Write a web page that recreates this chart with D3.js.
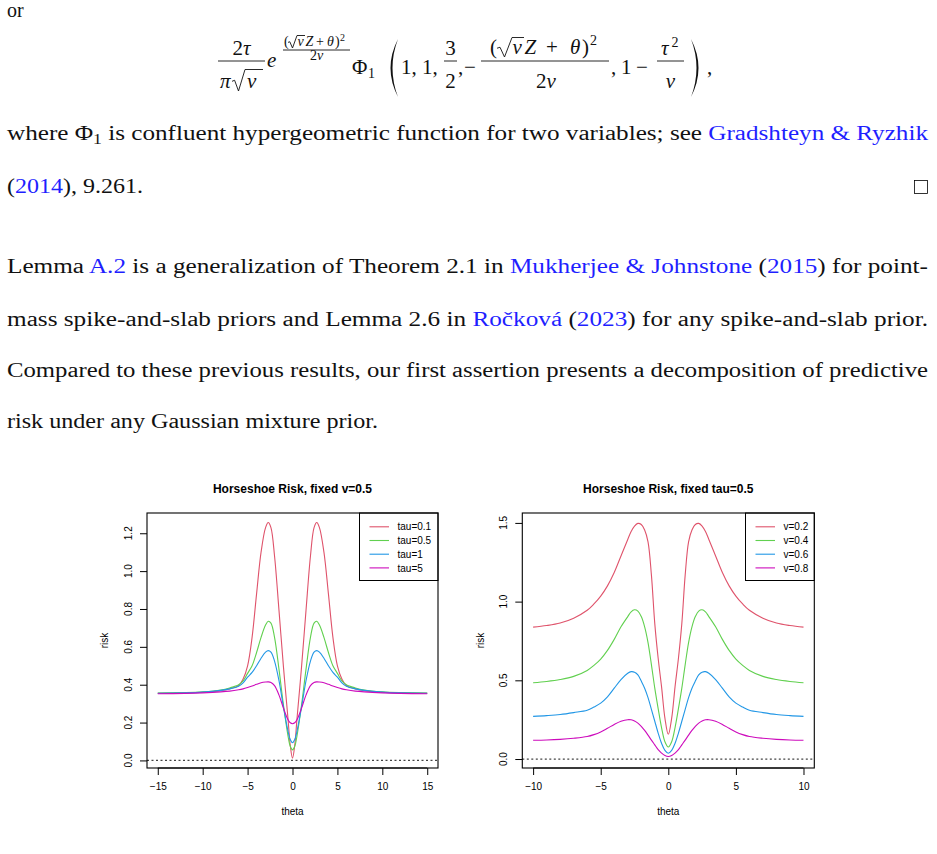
<!DOCTYPE html>
<html>
<head>
<meta charset="utf-8">
<script src="https://cdn.jsdelivr.net/npm/d3@7"></script>
<style>
body{margin:0;background:#fff}
svg{display:block}
</style>
</head>
<body>
<svg id="page" width="937" height="854"></svg>
<script>
// ---- data ----
var thetaLeft = [-15,-12,-10,-8,-7,-6,-5.5,-5,-4.5,-4,-3.5,-3,-2.7,-2.4,-2,-1.5,-1,-0.5,-0.25,0,
                 0.25,0.5,1,1.5,2,2.4,2.7,3,3.5,4,4.5,5,5.5,6,7,8,10,12,15]
var riskTau01 = [0.355,0.357,0.360,0.368,0.378,0.395,0.43,0.50,0.65,0.88,1.10,1.23,1.257,1.23,1.08,0.79,0.49,0.22,0.08,0.012,
                 0.08,0.22,0.49,0.79,1.08,1.23,1.257,1.23,1.10,0.88,0.65,0.50,0.43,0.395,0.378,0.368,0.360,0.357,0.355]
var riskTau05 = [0.356,0.358,0.362,0.372,0.383,0.40,0.42,0.46,0.50,0.57,0.65,0.715,0.735,0.725,0.65,0.48,0.29,0.13,0.075,0.056,
                 0.075,0.13,0.29,0.48,0.65,0.725,0.735,0.715,0.65,0.57,0.50,0.46,0.42,0.40,0.383,0.372,0.362,0.358,0.356]
var riskTau1  = [0.355,0.357,0.361,0.370,0.378,0.392,0.41,0.44,0.465,0.50,0.54,0.572,0.58,0.572,0.525,0.42,0.28,0.155,0.11,0.093,
                 0.11,0.155,0.28,0.42,0.525,0.572,0.58,0.572,0.54,0.50,0.465,0.44,0.41,0.392,0.378,0.370,0.361,0.357,0.355]
var riskTau5  = [0.352,0.354,0.357,0.362,0.366,0.373,0.378,0.385,0.393,0.402,0.41,0.414,0.415,0.412,0.395,0.345,0.275,0.215,0.199,0.194,
                 0.199,0.215,0.275,0.345,0.395,0.412,0.415,0.414,0.41,0.402,0.393,0.385,0.378,0.373,0.366,0.362,0.357,0.354,0.352]
var tauLabels = ["tau=0.1","tau=0.5","tau=1","tau=5"]
var xTicksLeft = [-15,-10,-5,0,5,10,15]
var yTicksLeft = [0,0.2,0.4,0.6,0.8,1.0,1.2]

var thetaRight = [-10,-9,-8,-7,-6,-5.5,-5,-4.5,-4,-3.5,-3,-2.75,-2.5,-2.25,-2,-1.75,-1.5,-1.25,-1,-0.75,-0.5,-0.25,0,
                  0.25,0.5,0.75,1,1.25,1.5,1.75,2,2.25,2.5,2.75,3,3.5,4,4.5,5,5.5,6,7,8,9,10]
var riskV02 = [0.838,0.848,0.864,0.895,0.945,0.985,1.035,1.10,1.185,1.29,1.395,1.445,1.48,1.497,1.49,1.455,1.38,1.17,0.86,0.64,0.46,0.26,0.157,
               0.26,0.46,0.64,0.86,1.17,1.38,1.455,1.49,1.497,1.48,1.445,1.395,1.29,1.185,1.10,1.035,0.985,0.945,0.895,0.864,0.848,0.838]
var riskV04 = [0.485,0.493,0.505,0.525,0.563,0.595,0.635,0.69,0.76,0.84,0.905,0.935,0.948,0.94,0.905,0.84,0.74,0.60,0.45,0.32,0.20,0.11,0.076,
               0.11,0.20,0.32,0.45,0.60,0.74,0.84,0.905,0.94,0.948,0.935,0.905,0.84,0.76,0.69,0.635,0.595,0.563,0.525,0.505,0.493,0.485]
var riskV06 = [0.271,0.276,0.283,0.295,0.31,0.33,0.355,0.395,0.45,0.505,0.545,0.555,0.552,0.535,0.495,0.45,0.39,0.315,0.24,0.165,0.10,0.055,0.037,
               0.055,0.10,0.165,0.24,0.315,0.39,0.45,0.495,0.535,0.552,0.555,0.545,0.505,0.45,0.395,0.355,0.33,0.31,0.295,0.283,0.276,0.271]
var riskV08 = [0.119,0.121,0.125,0.132,0.143,0.155,0.172,0.195,0.22,0.24,0.25,0.249,0.242,0.228,0.208,0.182,0.152,0.12,0.09,0.06,0.038,0.022,0.016,
               0.022,0.038,0.06,0.09,0.12,0.152,0.182,0.208,0.228,0.242,0.249,0.25,0.24,0.22,0.195,0.172,0.155,0.143,0.132,0.125,0.121,0.119]
var vLabels = ["v=0.2","v=0.4","v=0.6","v=0.8"]
var xTicksRight = [-10,-5,0,5,10]
var yTicksRight = [0,0.5,1.0,1.5]

var lineColors = ["#DF536B","#61D04F","#2297E6","#CD0BBC"]

var svg = d3.select("#page")
var serif = "'Liberation Serif','DejaVu Serif',serif"
var sans = "'Liberation Sans',Arial,sans-serif"
var linkBlue = "#1f1fff"

// ---- body text ----
// parts: [text, colour, "sub"]
var addLine = function(x, y, parts, width){
    var t = svg.append("text").attr("x", x).attr("y", y)
        .attr("font-family", serif).attr("font-size", 20).attr("fill", "#111")
    var shifted = false
    parts.forEach(function(p){
        var s = t.append("tspan").text(p[0])
        if (p[1]) s.attr("fill", p[1])
        if (p[2] == "sub") { s.attr("font-size", 14).attr("dy", 4); shifted = true }
        else if (shifted) { s.attr("dy", -4); shifted = false }
    })
    if (width) t.attr("textLength", width).attr("lengthAdjust", "spacingAndGlyphs")
    return t
}

addLine(7, 17, [["or"]])
addLine(7, 140, [["where Φ"], ["1", null, "sub"], [" is confluent hypergeometric function for two variables; see "], ["Gradshteyn & Ryzhik", linkBlue]], 921)
addLine(7, 193, [["("], ["2014", linkBlue], ["), 9.261."]], 136)
svg.append("rect").attr("x", 914.5).attr("y", 180.5).attr("width", 13).attr("height", 13)
    .attr("fill", "none").attr("stroke", "#000").attr("stroke-width", 0.8)
addLine(7, 273, [["Lemma "], ["A.2", linkBlue], [" is a generalization of Theorem 2.1 in "], ["Mukherjee & Johnstone", linkBlue], [" ("], ["2015", linkBlue], [") for point-"]], 921)
addLine(7, 326, [["mass spike-and-slab priors and Lemma 2.6 in "], ["Ročková", linkBlue], [" ("], ["2023", linkBlue], [") for any spike-and-slab prior."]], 921)
addLine(7, 377, [["Compared to these previous results, our first assertion presents a decomposition of predictive"]], 921)
addLine(7, 428, [["risk under any Gaussian mixture prior."]], 371)

// ---- display formula ----
var m = svg.append("g").attr("font-family", serif).attr("fill", "#111")
var put = function(x, y, s, size, italic, anchor){
    m.append("text").attr("x", x).attr("y", y).text(s)
        .attr("font-size", size || 21)
        .attr("font-style", italic ? "italic" : "normal")
        .attr("text-anchor", anchor || "start")
}
var bar = function(x1, x2, y){
    m.append("line").attr("x1", x1).attr("x2", x2).attr("y1", y).attr("y2", y)
        .attr("stroke", "#111").attr("stroke-width", 0.9)
}
var radical = function(x, yTop, yBot, xEnd, w){
    var h = yBot - yTop
    m.append("path")
        .attr("d", "M" + x + "," + (yTop + h*0.55) + " L" + (x + w*0.2) + "," + (yTop + h*0.5) +
              " L" + (x + w*0.5) + "," + yBot + " L" + (x + w) + "," + yTop + " L" + xEnd + "," + yTop)
        .attr("fill", "none").attr("stroke", "#111").attr("stroke-width", 0.9)
}
var bigParen = function(x, yTop, yBot, dir){
    var mid = (yTop + yBot)/2, b = dir*15, b2 = dir*11
    m.append("path")
        .attr("d", "M" + x + "," + yTop + " Q" + (x - b) + "," + mid + " " + x + "," + yBot +
              " Q" + (x - b2) + "," + mid + " " + x + "," + yTop + "Z")
        .attr("fill", "#111")
}

// 2tau / (pi sqrt v)
m.append("text").attr("x", 241.5).attr("y", 55).attr("font-size", 21).attr("text-anchor", "middle")
    .html("2<tspan font-style='italic'>τ</tspan>")
bar(218, 265, 61)
put(220, 88, "π", 21, true)
radical(232, 69.5, 91, 263, 13)
put(247, 88, "v", 21, true)
// e^{(sqrt v Z + theta)^2 / 2v}
put(267, 67, "e", 21, true)
put(284, 46, "(", 14)
radical(288, 35.5, 48, 305, 9)
put(297.5, 46, "v", 14, true)
put(305.5, 46, "Z", 14, true)
put(316, 46, "+", 14)
put(327, 46, "θ", 14, true)
put(335, 46, ")", 14)
put(340, 41, "2", 10)
bar(283, 350, 50)
m.append("text").attr("x", 316.5).attr("y", 60).attr("font-size", 14).attr("text-anchor", "middle")
    .html("2<tspan font-style='italic'>v</tspan>")
// Phi_1 ( ... )
put(352, 74, "Φ", 21)
put(368, 78, "1", 14)
bigParen(398, 39, 97, 1)
put(401, 74, "1, 1,", 21)
put(450.5, 55, "3", 21, false, "middle")
bar(444, 457, 61)
put(450.5, 88, "2", 21, false, "middle")
put(458, 74, ",", 21)
put(464, 74, "−", 21)
// -(sqrt v Z + theta)^2 / 2v
put(490, 54, "(", 21)
radical(497, 37.5, 57, 524, 15)
put(512.5, 54, "v", 21, true)
put(524.5, 54, "Z", 21, true)
put(546, 54, "+", 21)
put(570, 54, "θ", 21, true)
put(582, 54, ")", 21)
put(590, 45, "2", 14)
bar(481, 609, 61)
m.append("text").attr("x", 546).attr("y", 88).attr("font-size", 21).attr("text-anchor", "middle")
    .html("2<tspan font-style='italic'>v</tspan>")
put(611, 74, ",", 21)
put(621, 74, "1", 21)
put(636, 74, "−", 21)
// tau^2 / v
put(661, 55, "τ", 21, true)
put(671.5, 47, "2", 14)
bar(657, 684, 61)
put(670.5, 88, "v", 21, true, "middle")
bigParen(691, 39, 97, -1)
put(707, 74, ",", 21)

// ---- the two risk panels ----
var drawPanel = function(p){
    var x = d3.scaleLinear().domain(p.xDomain).range([p.left, p.right])
    var y = d3.scaleLinear().domain(p.yDomain).range([p.bottom, p.top])
    var g = svg.append("g")
    var midX = (p.left + p.right)/2

    // title
    g.append("text").attr("x", midX).attr("y", 492.5).attr("text-anchor", "middle")
        .attr("font-family", sans).attr("font-size", 12).attr("font-weight", "bold")
        .text(p.title)

    // x axis
    var xa = g.append("g").attr("transform", "translate(0," + p.bottom + ")")
        .call(d3.axisBottom(x).tickValues(p.xTicks).tickSize(7).tickPadding(8))
    xa.select(".domain").remove()
    xa.attr("font-family", sans).attr("font-size", 10)
    xa.selectAll("text").attr("fill", "#000")
    xa.append("line").attr("x1", x(p.xTicks[0])).attr("x2", x(p.xTicks[p.xTicks.length-1]))
        .attr("stroke", "#000")

    // y axis, rotated labels like R
    var ya = g.append("g").attr("transform", "translate(" + p.left + ",0)")
        .call(d3.axisLeft(y).tickValues(p.yTicks).tickSize(7).tickFormat(""))
    ya.select(".domain").remove()
    g.selectAll(".ylab").data(p.yTicks).join("text").attr("class", "ylab")
        .attr("transform", function(d){ return "translate(" + (p.left - 15.5) + "," + y(d) + ") rotate(-90)" })
        .attr("text-anchor", "middle").attr("font-family", sans).attr("font-size", 10)
        .text(d3.format(".1f"))

    // axis titles
    g.append("text").attr("x", midX).attr("y", 815).attr("text-anchor", "middle")
        .attr("font-family", sans).attr("font-size", 10).text("theta")
    g.append("text").attr("transform", "translate(" + p.riskX + "," + ((p.top + p.bottom)/2) + ") rotate(-90)")
        .attr("text-anchor", "middle").attr("font-family", sans).attr("font-size", 10).text("risk")

    // curves
    var line = d3.line()
        .x(function(d, i){ return x(p.theta[i]) })
        .y(function(d){ return y(d) })
        .curve(d3.curveCatmullRom.alpha(0.5))
    p.series.forEach(function(s, k){
        g.append("path").attr("d", line(s)).attr("fill", "none")
            .attr("stroke", lineColors[k]).attr("stroke-width", 1.1)
    })

    // dotted zero line
    g.append("line").attr("x1", p.left).attr("x2", p.right).attr("y1", y(0)).attr("y2", y(0))
        .attr("stroke", "#444").attr("stroke-width", 1.3).attr("stroke-dasharray", "2,2.5")

    // legend
    var lg = g.append("g")
    lg.append("rect").attr("x", p.legendLeft).attr("y", p.top)
        .attr("width", p.right - p.legendLeft).attr("height", 67.5)
        .attr("fill", "#fff").attr("stroke", "#000").attr("stroke-width", 1)
    p.labels.forEach(function(lab, k){
        var ly = p.top + 13.8 + k*13.7
        lg.append("line").attr("x1", p.legendLeft + 10).attr("x2", p.legendLeft + 29.5)
            .attr("y1", ly).attr("y2", ly).attr("stroke", lineColors[k]).attr("stroke-width", 1.1)
        lg.append("text").attr("x", p.legendLeft + 38).attr("y", ly + 3.6)
            .attr("font-family", sans).attr("font-size", 10).text(lab)
    })

    // box
    g.append("rect").attr("x", p.left).attr("y", p.top)
        .attr("width", p.right - p.left).attr("height", p.bottom - p.top)
        .attr("fill", "none").attr("stroke", "#000").attr("stroke-width", 1.1)
}

drawPanel({
    title: "Horseshoe Risk, fixed v=0.5",
    left: 147, right: 438, top: 513, bottom: 768,
    xDomain: [-16.2, 16.2], yDomain: [-0.04, 1.307],
    xTicks: xTicksLeft, yTicks: yTicksLeft,
    theta: thetaLeft, series: [riskTau01, riskTau05, riskTau1, riskTau5],
    labels: tauLabels, legendLeft: 359.5, riskX: 108.3
})
drawPanel({
    title: "Horseshoe Risk, fixed tau=0.5",
    left: 522.3, right: 814.3, top: 513, bottom: 768,
    xDomain: [-10.8, 10.8], yDomain: [-0.057, 1.563],
    xTicks: xTicksRight, yTicks: yTicksRight,
    theta: thetaRight, series: [riskV02, riskV04, riskV06, riskV08],
    labels: vLabels, legendLeft: 745.5, riskX: 484
})
</script>
</body>
</html>
